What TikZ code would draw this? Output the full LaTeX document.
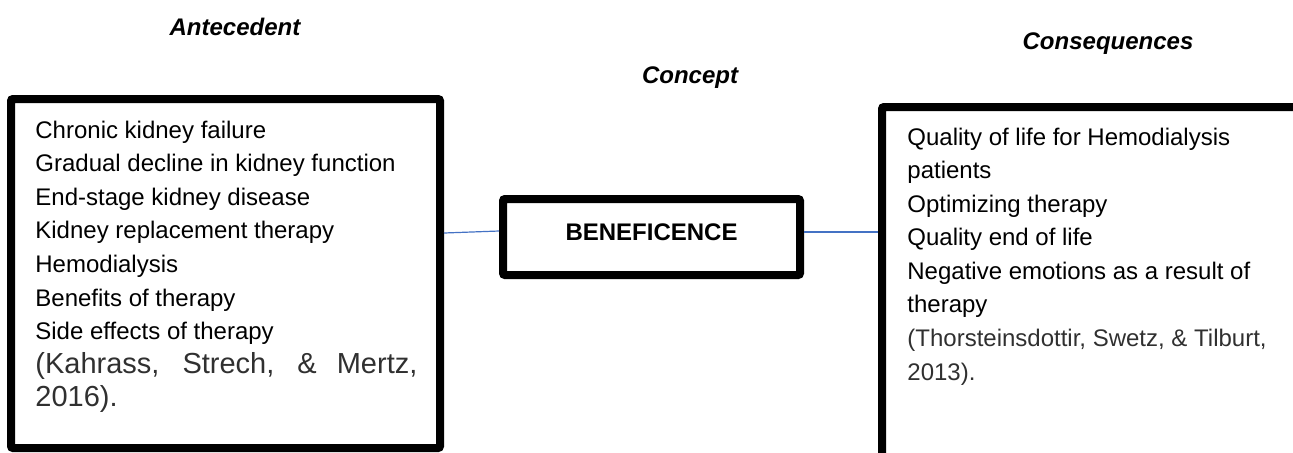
\documentclass[tikz,border=0pt]{standalone}
\usepackage{fontspec}
\setmainfont{Liberation Sans}
\usetikzlibrary{calc}
\definecolor{linkblue}{HTML}{4472C4}
\definecolor{citegray}{HTML}{303030}

\begin{document}
\begin{tikzpicture}[x=0.5pt,y=-0.5pt]
        \tikzstyle{every node} = [inner sep=0pt, font=\fontsize{12pt}{14pt}\selectfont]
        \tikzstyle{heading} = [anchor=base, font=\fontsize{12pt}{14pt}\selectfont\bfseries\itshape]
        \tikzstyle{bigbox} = [draw, line width=4pt, rounded corners=1pt]
        \tikzstyle{item} = [anchor=base west]
        \tikzstyle{cite} = [anchor=base west, text=citegray]
        \tikzstyle{link} = [draw=linkblue, line width=0.6pt]
            \useasboundingbox (0,0) rectangle (1293,452);
            \clip (0,0) rectangle (1293,452);

            % headings
            \node[heading] (antehead) at (235,35) {Antecedent};
            \node[heading] (concepthead) at (690,83) {Concept};
            \node[heading] (conshead) at (1108,49) {Consequences};

            % boxes
            \node[bigbox, minimum width=214.5pt, minimum height=174.5pt] (antebox) at (225.5,273.5) {};
            \node[bigbox, minimum width=148.5pt, minimum height=38pt,
                  font=\fontsize{12pt}{14pt}\selectfont\bfseries,
                  text height=9pt, text depth=6pt] (concept) at (651.5,237) {BENEFICENCE};
            \node[bigbox, minimum width=220pt, minimum height=190pt] (consbox) at (1102,297) {};

            % antecedent list
            \foreach \txt [count=\i] in {Chronic kidney failure, Gradual decline in kidney function,
                End-stage kidney disease, Kidney replacement therapy, Hemodialysis,
                Benefits of therapy, Side effects of therapy}{
                \node[item] (ante\i) at (35,{138+33.6*(\i-1)}) {\txt};
            }
            \node[cite, font=\fontsize{14.5pt}{17pt}\selectfont] (antecite1) at (35,373)
                {\makebox[191pt][s]{(Kahrass, Strech, \& Mertz,}};
            \node[cite, font=\fontsize{14.5pt}{17pt}\selectfont] (antecite2) at (35,406) {2016).};

            % consequences list
            \foreach \txt [count=\i] in {Quality of life for Hemodialysis, patients,
                Optimizing therapy, Quality end of life, Negative emotions as a result of, therapy}{
                \node[item] (cons\i) at (907,{145+33.5*(\i-1)}) {\txt};
            }
            \node[cite] (conscite1) at (907,346) {(Thorsteinsdottir, Swetz, \& Tilburt,};
            \node[cite] (conscite2) at (907,380) {2013).};

            % connectors
            \draw[link] ($(concept.west -| antebox.east)+(0,-4)$) -- ($(concept.west)+(0,-6)$);
            \draw[link] ($(concept.east)+(0,-5)$) -- ($(concept.east -| consbox.west)+(0,-5)$);
\end{tikzpicture}
\end{document}
